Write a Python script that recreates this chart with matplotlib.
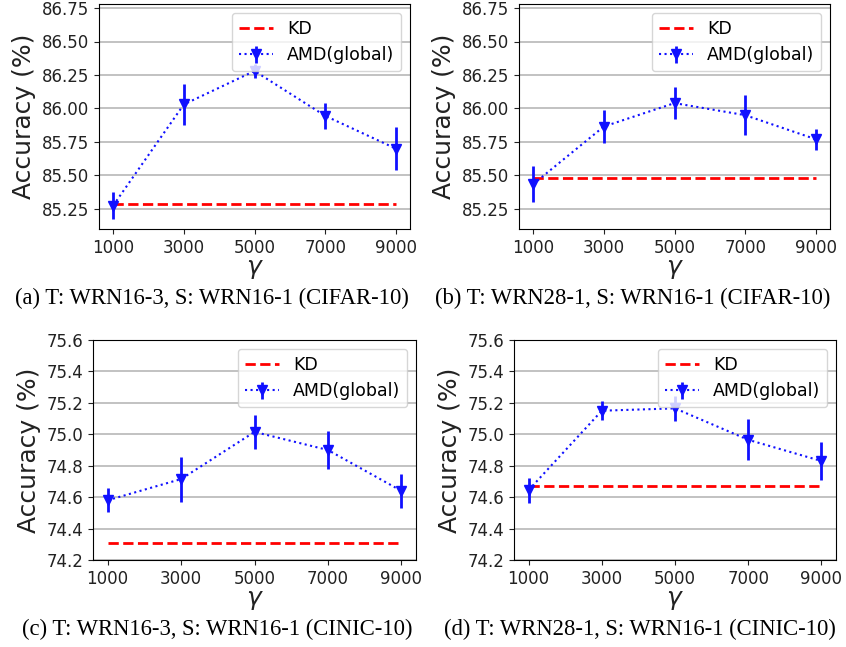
import numpy as np
import matplotlib
matplotlib.use('Agg')
import matplotlib.pyplot as plt

# gamma values on the x axis
gamma = [1000, 3000, 5000, 7000, 9000]

# (a) WRN16-3 -> WRN16-1, CIFAR-10
kd_a = 85.29
amd_a = [85.275, 86.03, 86.28, 85.945, 85.70]
err_a = [0.10, 0.155, 0.05, 0.095, 0.16]

# (b) WRN28-1 -> WRN16-1, CIFAR-10
kd_b = 85.48
amd_b = [85.435, 85.865, 86.04, 85.95, 85.77]
err_b = [0.135, 0.12, 0.12, 0.15, 0.08]

# (c) WRN16-3 -> WRN16-1, CINIC-10
kd_c = 74.31
amd_c = [74.58, 74.715, 75.015, 74.90, 74.64]
err_c = [0.077, 0.143, 0.11, 0.12, 0.11]

# (d) WRN28-1 -> WRN16-1, CINIC-10
kd_d = 74.67
amd_d = [74.645, 75.15, 75.165, 74.965, 74.83]
err_d = [0.08, 0.06, 0.078, 0.13, 0.12]

captions = ['(a) T: WRN16-3, S: WRN16-1 (CIFAR-10)',
            '(b) T: WRN28-1, S: WRN16-1 (CIFAR-10)',
            '(c) T: WRN16-3, S: WRN16-1 (CINIC-10)',
            '(d) T: WRN28-1, S: WRN16-1 (CINIC-10)']

W, H = 846, 647
fig = plt.figure(figsize=(W / 100, H / 100), dpi=100)

def box(l, r, t, b):
    return [l / W, 1 - b / H, (r - l) / W, (b - t) / H]

panels = [
    (box(99, 410, 4, 229), kd_a, amd_a, err_a, (85.1, 86.78),
     [85.25, 85.5, 85.75, 86.0, 86.25, 86.5, 86.75], '%.2f', (212, 298)),
    (box(519, 830, 4, 229), kd_b, amd_b, err_b, (85.1, 86.78),
     [85.25, 85.5, 85.75, 86.0, 86.25, 86.5, 86.75], '%.2f', (633, 298)),
    (box(93, 416, 340, 560), kd_c, amd_c, err_c, (74.2, 75.6),
     [74.2, 74.4, 74.6, 74.8, 75.0, 75.2, 75.4, 75.6], '%.1f', (217, 629)),
    (box(514, 836, 340, 560), kd_d, amd_d, err_d, (74.2, 75.6),
     [74.2, 74.4, 74.6, 74.8, 75.0, 75.2, 75.4, 75.6], '%.1f', (640, 629)),
]

for i, (pos, kd, amd, err, ylim, yt, fmt, cap) in enumerate(panels):
    ax = fig.add_axes(pos)
    ax.plot(gamma, [kd] * len(gamma), 'r--', lw=2, label='KD')
    ax.errorbar(gamma, amd, yerr=err, fmt='v:', color='#1010ff',
                markersize=7.5, lw=1.5, elinewidth=2, label='AMD(global)')
    ax.set_ylim(*ylim)
    ax.set_yticks(yt)
    ax.set_yticklabels([fmt % v for v in yt])
    ax.set_xticks(gamma)
    ax.tick_params(labelsize=12, colors='#222222')
    ax.grid(axis='y', color='#bdbdbd', linewidth=1.3)
    ax.set_axisbelow(True)
    ax.set_ylabel('Accuracy (%)', fontsize=18, color='#222222')
    ax.set_xlabel(r'$\gamma$', fontsize=18, labelpad=0, color='#222222')
    ax.legend(loc='upper right', fontsize=12.5)
    fig.text(cap[0] / W, 1 - cap[1] / H, captions[i], fontsize=16.3,
             family='Liberation Serif', ha='center', va='center')

plt.savefig('out.png', dpi=100)
